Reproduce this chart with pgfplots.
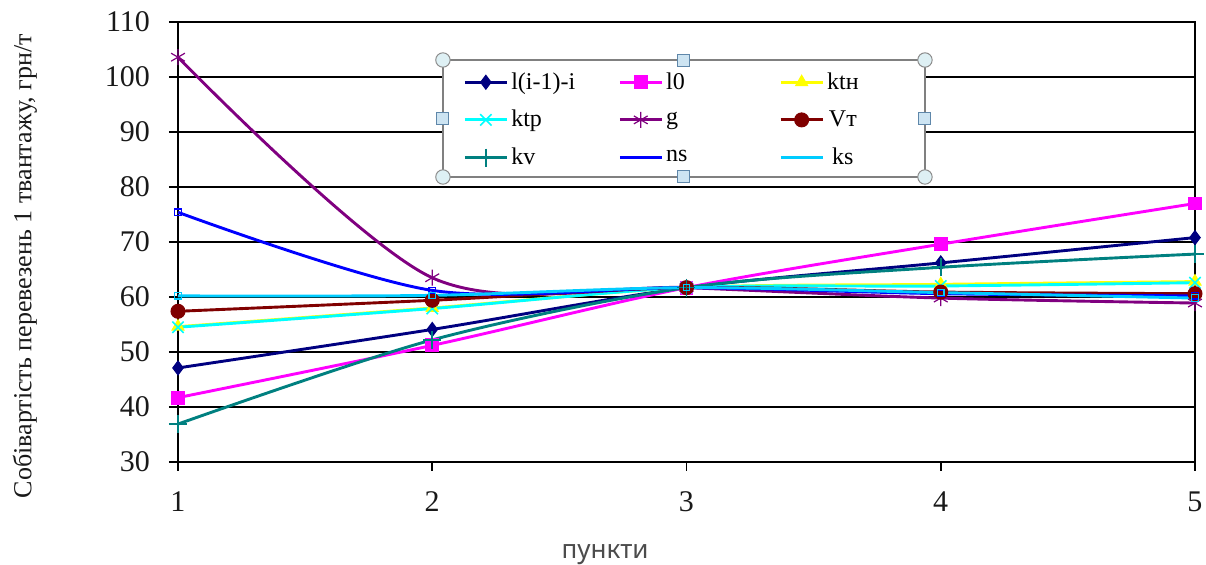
\documentclass[border=0pt]{standalone}
\usepackage{fontspec}
\setmainfont{Liberation Serif}
\newfontfamily\sansx{Noto Sans}
\usepackage{pgfplots}
\pgfplotsset{compat=1.18}
\definecolor{cNavy}{RGB}{0,0,128}
\definecolor{cMag}{RGB}{255,0,255}
\definecolor{cYel}{RGB}{255,255,0}
\definecolor{cCyan}{RGB}{0,255,255}
\definecolor{cPurp}{RGB}{128,0,128}
\definecolor{cDRed}{RGB}{128,0,0}
\definecolor{cTeal}{RGB}{0,128,128}
\definecolor{cBlue}{RGB}{0,0,255}
\definecolor{cSky}{RGB}{0,204,255}
\definecolor{hCirc}{RGB}{222,240,244}
\definecolor{hSq}{RGB}{205,228,242}
\definecolor{hSqB}{RGB}{95,135,170}
\tikzset{hc/.style={circle, fill=hCirc, draw=black!45, line width=0.5pt, minimum size=7.2pt, inner sep=0pt},
         hs/.style={rectangle, fill=hSq, draw=hSqB, line width=0.5pt, minimum size=6pt, inner sep=0pt}}
\begin{document}
\begin{tikzpicture}
\path[use as bounding box] (-89pt,-51.5pt) rectangle (514pt,231pt);
\begin{axis}[
  scale only axis, width=508.5pt, height=220pt,
  at={(0,0)}, anchor=south west,
  xmin=1, xmax=5, ymin=30, ymax=110,
  xtick={1,2,3,4,5}, ytick={30,40,...,110},
  xtick pos=left, ytick pos=left,
  ymajorgrids, grid style={black, line width=0.85pt},
  axis line style={black, line width=1pt},
  tick style={black, line width=0.8pt},
  tick align=outside, major tick length=4.5pt,
  /pgf/number format/assume math mode=true,
  ticklabel style={font=\fontsize{15}{17}\selectfont, text=black!90},
  yticklabel style={xshift=-6pt},
  xticklabel style={yshift=-7pt},
  clip=false,
  legend columns=3,
  legend style={draw=none, fill=none, at={(axis cs:2.121,101.45)}, anchor=north west,
    column sep=0pt, row sep=6pt, font=\fontsize{12}{14}\selectfont, inner sep=0pt,
    nodes={inner sep=1.5pt}},
  legend image code/.code={\draw[mark repeat=2,mark phase=2] plot coordinates {(0pt,0pt) (10.5pt,0pt) (21pt,0pt)};},
  every axis plot/.append style={line width=1.45pt, smooth, tension=0.5},
]
\addplot[cNavy, mark=diamond*, mark size=3.5pt, mark options={solid,line width=0.5pt}] coordinates {(1,47.1) (2,54.1) (3,61.7) (4,66.2) (5,70.8)};
\addlegendentry{\makebox[52pt][l]{l(i-1)-i}}
\addplot[cMag, mark=square*, mark size=3.2pt, mark options={solid,line width=0.5pt}] coordinates {(1,41.7) (2,51.2) (3,61.7) (4,69.6) (5,77.0)};
\addlegendentry{\makebox[55pt][l]{l0}}
\addplot[cYel, mark=triangle*, mark size=3.5pt, mark options={solid,line width=0.5pt}] coordinates {(1,54.6) (2,58.0) (3,61.7) (4,62.3) (5,62.8)};
\addlegendentry{ktн}
\addplot[cCyan, mark=x, mark size=4pt, mark options={solid,line width=0.8pt}] coordinates {(1,54.5) (2,57.9) (3,61.7) (4,62.0) (5,62.6)};
\addlegendentry{\makebox[52pt][l]{ktp}}
\addplot[cPurp, mark=asterisk, mark size=4pt, mark options={solid,line width=0.6pt}] coordinates {(1,103.6) (2,63.5) (3,61.7) (4,59.8) (5,58.9)};
\addlegendentry{\makebox[55pt][l]{g}}
\addplot[cDRed, mark=*, mark size=3.5pt, mark options={solid,line width=0.5pt}] coordinates {(1,57.4) (2,59.4) (3,61.7) (4,60.9) (5,60.6)};
\addlegendentry{Vт}
\addplot[cTeal, mark=+, mark size=4.5pt, mark options={solid,line width=0.8pt}] coordinates {(1,36.9) (2,52.2) (3,61.7) (4,65.4) (5,67.8)};
\addlegendentry{\makebox[52pt][l]{kv}}
\addplot[cBlue, mark=square, mark size=1.6pt, mark options={solid,line width=0.6pt}, legend image post style={mark=none}] coordinates {(1,75.4) (2,61.2) (3,61.7) (4,60.6) (5,60.2)};
\addlegendentry{\makebox[55pt][l]{ns}}
\addplot[cSky, mark=square, mark size=1.6pt, mark options={solid,line width=0.6pt}, legend image post style={mark=none}] coordinates {(1,60.2) (2,60.3) (3,61.7) (4,60.8) (5,59.8)};
\addlegendentry{ks}
% legend frame with selection handles
\draw[fill=white, draw=black!50, line width=0.75pt] (axis cs:2.042,103.09) rectangle (axis cs:3.938,81.82);
\node[hc] at (axis cs:2.042,103.09) {};
\node[hc] at (axis cs:3.938,103.09) {};
\node[hc] at (axis cs:2.042,81.82) {};
\node[hc] at (axis cs:3.938,81.82) {};
\node[hs] at (axis cs:2.990,103.09) {};
\node[hs] at (axis cs:2.990,81.82) {};
\node[hs] at (axis cs:2.042,92.45) {};
\node[hs] at (axis cs:3.938,92.45) {};
\node[font=\sansx\fontsize{13}{15}\selectfont, text=black!70] at (axis cs:2.68,13.2) {пункти};
\node[rotate=90, font=\fontsize{13}{15}\selectfont, text=black!90] at (axis cs:0.398,65.6) {Собівартість перевезень 1 твантажу, грн/т};
\end{axis}
\end{tikzpicture}
\end{document}
